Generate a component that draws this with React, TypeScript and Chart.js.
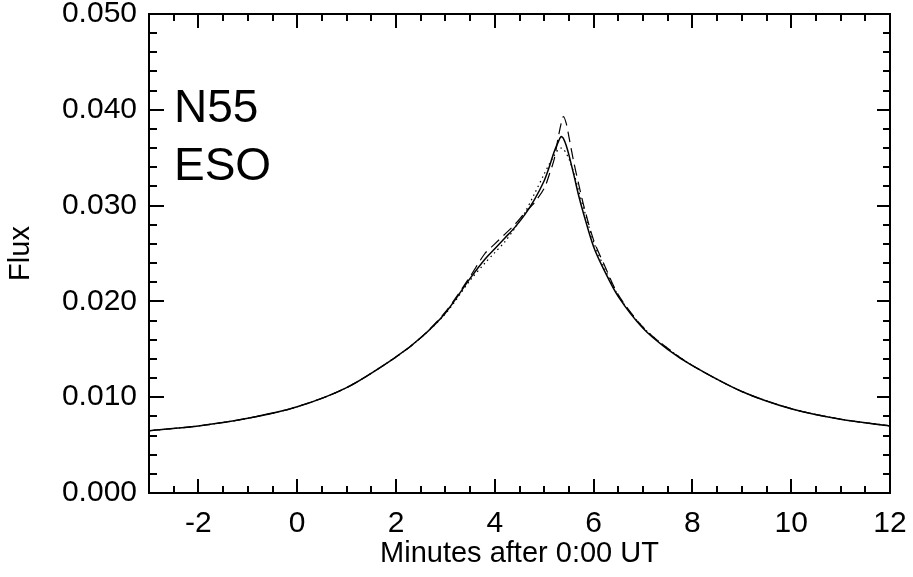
import React, { useEffect, useRef } from "react";
import { Chart, registerables } from "chart.js";

Chart.register(...registerables);

// Minutes after 0:00 UT
const minutes = [
  -3, -2, -1, 0, 1, 2, 2.5, 3, 3.5, 3.8, 4.0, 4.2, 4.4, 4.6, 4.8, 5.0, 5.1, 5.2,
  5.28, 5.34, 5.39, 5.45, 5.5, 5.6, 5.7, 5.8, 6.0, 6.2, 6.5, 7, 7.5, 8, 9, 10, 11, 12,
];

const fluxSolid = [
  0.0065, 0.0070, 0.0078, 0.0090, 0.0110, 0.0142, 0.0162, 0.0188, 0.0224, 0.0244, 0.0255, 0.0266,
  0.0277, 0.0290, 0.0306, 0.0326, 0.0340, 0.0356, 0.0366, 0.0372, 0.0370, 0.0362, 0.0353, 0.0332,
  0.0310, 0.0291, 0.0257, 0.0234, 0.0205, 0.0172, 0.0150, 0.0133, 0.0106, 0.0088, 0.0077, 0.0070,
];

const fluxDashed = [
  0.0065, 0.0070, 0.0078, 0.0090, 0.0110, 0.0142, 0.0162, 0.0189, 0.0226, 0.0250, 0.0260, 0.0270,
  0.0280, 0.0292, 0.0303, 0.0318, 0.0332, 0.0348, 0.0370, 0.0385, 0.0393, 0.0385, 0.0372, 0.0345,
  0.0322, 0.0300, 0.0264, 0.0240, 0.0207, 0.0173, 0.0151, 0.0133, 0.0106, 0.0088, 0.0077, 0.0070,
];

const fluxDotted = [
  0.0065, 0.0070, 0.0078, 0.0090, 0.0110, 0.0142, 0.0162, 0.0187, 0.0222, 0.0240, 0.0251, 0.0262,
  0.0276, 0.0292, 0.0312, 0.0333, 0.0343, 0.0352, 0.0358, 0.0360, 0.0359, 0.0354, 0.0349, 0.0334,
  0.0315, 0.0297, 0.0262, 0.0237, 0.0206, 0.0173, 0.0151, 0.0133, 0.0106, 0.0088, 0.0077, 0.0070,
];

const xMajorTicks = [-2, 0, 2, 4, 6, 8, 10, 12];
const xMinorStep = 0.5;
const yMajorTicks = [0, 0.01, 0.02, 0.03, 0.04, 0.05];
const yMinorStep = 0.002;
const annotationLines = ["N55", "ESO"];

const FONT = "'Liberation Sans', Arial, Helvetica, sans-serif";

const framePlugin = {
  id: "idlFrame",
  afterDraw(chart: any) {
    const { ctx, chartArea, scales } = chart;
    const { left, right, top, bottom } = chartArea;
    const xs = scales.x;
    const ys = scales.y;
    ctx.save();
    ctx.strokeStyle = "#000";
    ctx.lineWidth = 2;
    ctx.strokeRect(left, top, right - left, bottom - top);

    ctx.beginPath();
    const xmin = xs.min, xmax = xs.max;
    for (let v = Math.ceil(xmin / xMinorStep) * xMinorStep; v <= xmax + 1e-9; v += xMinorStep) {
      const isMajor = xMajorTicks.some((m) => Math.abs(m - v) < 1e-9);
      const len = isMajor ? 14 : 7;
      const px = Math.round(xs.getPixelForValue(v));
      ctx.moveTo(px, bottom);
      ctx.lineTo(px, bottom - len);
      ctx.moveTo(px, top);
      ctx.lineTo(px, top + len);
    }
    const ymin = ys.min, ymax = ys.max;
    for (let i = 0; ; i++) {
      const v = ymin + i * yMinorStep;
      if (v > ymax + 1e-9) break;
      const isMajor = yMajorTicks.some((m) => Math.abs(m - v) < 1e-9);
      const lenL = isMajor ? 15 : 8;
      const lenR = isMajor ? 13 : 7;
      const py = Math.round(ys.getPixelForValue(v));
      ctx.moveTo(left, py);
      ctx.lineTo(left + lenL, py);
      ctx.moveTo(right, py);
      ctx.lineTo(right - lenR, py);
    }
    ctx.stroke();

    ctx.fillStyle = "#000";
    ctx.font = `46px ${FONT}`;
    ctx.textAlign = "left";
    ctx.textBaseline = "alphabetic";
    ctx.fillText(annotationLines[0], left + 25, top + 108);
    ctx.fillText(annotationLines[1], left + 25, top + 166);
    ctx.restore();
  },
};

export default function App() {
  const canvasRef = useRef<HTMLCanvasElement | null>(null);

  useEffect(() => {
    const canvas = canvasRef.current;
    if (!canvas) return;
    const mk = (ys: number[]) => minutes.map((x, i) => ({ x, y: ys[i] }));
    const chart = new Chart(canvas, {
      type: "scatter",
      data: {
        datasets: [
          {
            label: "solid",
            data: mk(fluxSolid),
            showLine: true,
            borderColor: "#000",
            borderWidth: 1.5,
            pointRadius: 0,
            tension: 0.3,
          },
          {
            label: "dashed",
            data: mk(fluxDashed),
            showLine: true,
            borderColor: "#000",
            borderWidth: 1.2,
            borderDash: [11, 6],
            pointRadius: 0,
            tension: 0.3,
          },
          {
            label: "dotted",
            data: mk(fluxDotted),
            showLine: true,
            borderColor: "#000",
            borderWidth: 1.2,
            borderDash: [1.5, 3.5],
            pointRadius: 0,
            tension: 0.3,
          },
        ],
      },
      options: {
        responsive: false,
        animation: false,
        layout: { padding: { left: 0, top: 14, right: 23, bottom: 0 } },
        plugins: { legend: { display: false }, tooltip: { enabled: false } },
        scales: {
          x: {
            type: "linear",
            min: -3,
            max: 12,
            afterBuildTicks: (scale: any) => {
              scale.ticks = xMajorTicks.map((v) => ({ value: v }));
            },
            afterFit: (scale: any) => {
              scale.height = 84;
              scale.paddingLeft = 0;
              scale.paddingRight = 0;
            },
            grid: { display: false, drawTicks: false },
            border: { display: false },
            ticks: {
              color: "#000",
              font: { family: FONT, size: 30 },
              padding: 13,
              maxRotation: 0,
              autoSkip: false,
              callback: (v: any) => String(v),
            },
            title: {
              display: true,
              text: "Minutes after 0:00 UT",
              color: "#000",
              font: { family: FONT, size: 29 },
              padding: { top: 0, bottom: 6 },
            },
          },
          y: {
            type: "linear",
            min: 0,
            max: 0.05,
            afterBuildTicks: (scale: any) => {
              scale.ticks = yMajorTicks.map((v) => ({ value: v }));
            },
            afterFit: (scale: any) => {
              scale.width = 149;
              scale.paddingTop = 0;
              scale.paddingBottom = 0;
            },
            grid: { display: false, drawTicks: false },
            border: { display: false },
            ticks: {
              color: "#000",
              font: { family: FONT, size: 30 },
              padding: 12,
              autoSkip: false,
              callback: (v: any) => Number(v).toFixed(3),
            },
            title: {
              display: true,
              text: "Flux",
              color: "#000",
              font: { family: FONT, size: 29 },
              padding: { top: 4, bottom: 0 },
            },
          },
        },
      },
      plugins: [framePlugin],
    } as any);
    return () => chart.destroy();
  }, []);

  return (
    <div style={{ position: "fixed", left: 0, top: 0, width: 913, height: 577, background: "#fff" }}>
      <canvas ref={canvasRef} width={913} height={577} style={{ width: 913, height: 577 }} />
    </div>
  );
}
